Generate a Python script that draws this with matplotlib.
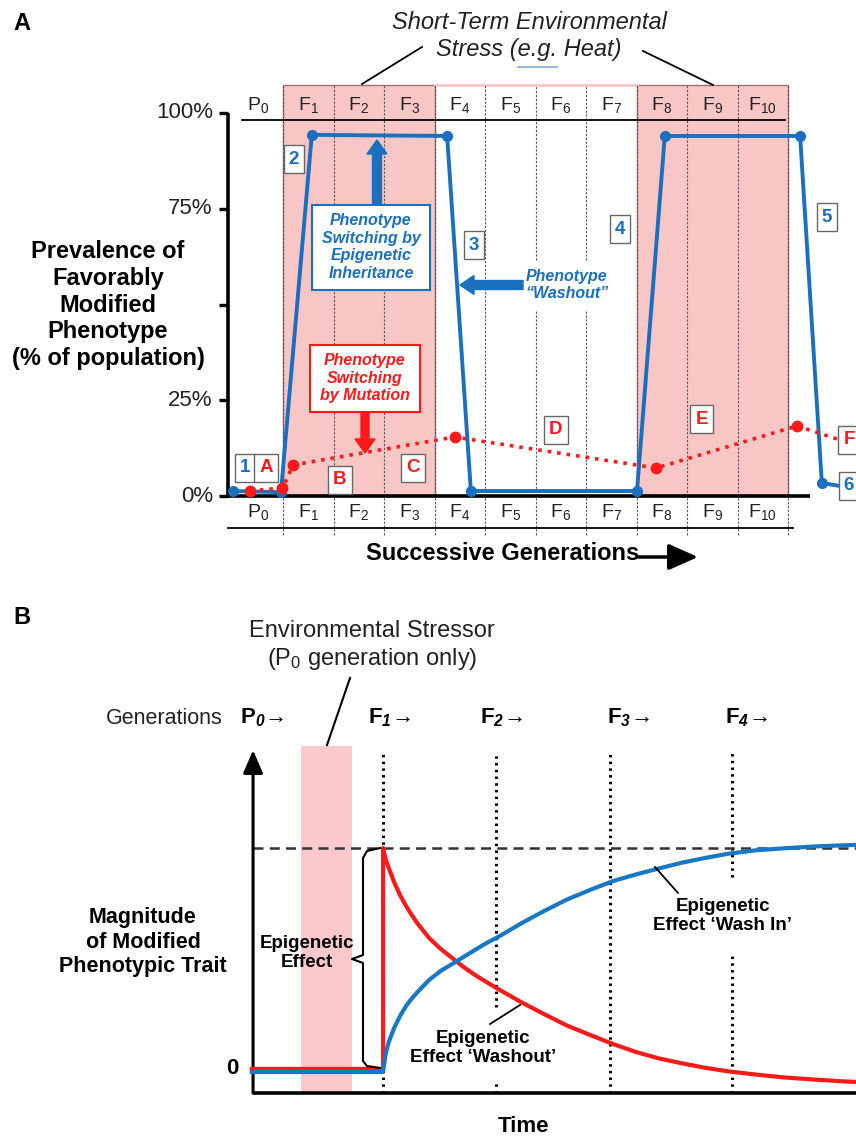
import matplotlib
matplotlib.use('Agg')
import matplotlib.pyplot as plt
from matplotlib.patches import Rectangle, FancyArrow

plt.rcParams['font.family'] = ['Liberation Sans', 'DejaVu Sans']
plt.rcParams['mathtext.fontset'] = 'custom'
plt.rcParams['mathtext.rm'] = 'Liberation Sans'
plt.rcParams['mathtext.it'] = 'Liberation Sans:italic'
plt.rcParams['mathtext.bf'] = 'Liberation Sans:bold'
try:
    plt.rcParams['mathtext.bfit'] = 'Liberation Sans:bold:italic'
except KeyError:
    pass

# ---------------- DATA ----------------
# Panel A: generations (each occupies one unit column)
gen_main = ['P', 'F', 'F', 'F', 'F', 'F', 'F', 'F', 'F', 'F', 'F']
gen_sub = ['0', '1', '2', '3', '4', '5', '6', '7', '8', '9', '10']
stress_blocks = [(1, 3), (8, 10)]          # F1-F3 and F8-F10 under stress
yticks_A = [0, 25, 50, 75, 100]
ytick_labels_A = ['0%', '25%', '', '75%', '100%']

# epigenetic inheritance (blue), % of population
epi_x = [0.01, 0.96, 1.57, 4.25, 4.72, 8.01, 8.56, 11.24, 11.67]
epi_y = [1.3, 1.0, 94.3, 94.0, 1.3, 1.3, 94.0, 94.0, 3.4]
# mutation (red), % of population
mut_x = [0.35, 0.99, 1.20, 4.40, 8.39, 11.18]
mut_y = [1.3, 2.1, 8.1, 15.4, 7.3, 18.3]

# Panel B
gens_B_main = ['P', 'F', 'F', 'F', 'F']
gens_B_sub = ['0', '1', '2', '3', '4']
gen_times_B = [1.0, 1.983, 2.974, 4.035]    # start times of F1..F4
stress_B = (0.287, 0.730)                  # P0 stress window
t_B = [1.0, 1.025, 1.05, 1.1, 1.15, 1.2, 1.25, 1.3, 1.4, 1.5, 1.6, 1.7,
       1.8, 1.9, 2.0, 2.2, 2.4, 2.6, 2.8, 3.0, 3.2, 3.4, 3.6, 3.8, 4.0,
       4.25, 4.5, 4.75, 5.0, 5.12]
washout_m = [1.000, 0.946, 0.910, 0.842, 0.786, 0.739, 0.698, 0.660, 0.595,
             0.546, 0.505, 0.464, 0.428, 0.396, 0.365, 0.306, 0.252, 0.200,
             0.158, 0.117, 0.081, 0.052, 0.030, 0.010, -0.006, -0.021,
             -0.034, -0.043, -0.051, -0.054]
washin_m = [-0.009, 0.078, 0.126, 0.193, 0.245, 0.288, 0.322, 0.351, 0.405,
            0.446, 0.477, 0.509, 0.541, 0.572, 0.599, 0.660, 0.716, 0.768,
            0.811, 0.851, 0.881, 0.908, 0.934, 0.955, 0.974, 0.990, 0.999,
            1.007, 1.012, 1.014]
baseline_t0 = -0.14
baseline_red = 0.005
baseline_blue = -0.009
effect_level = 1.0

# ---------------- STYLE ----------------
blue = '#1a6fbf'
blueB = '#1878c6'
red = '#ff1a1a'
pink = '#f9c6c6'
gray = '#666666'

fig = plt.figure(figsize=(8.56, 11.4), dpi=100)

axA = fig.add_axes([0, 0, 1, 1])
axA.set_axis_off()
axA.set_xlim(-232.5 / 50.5, (856 - 232.5) / 50.5)
axA.set_ylim((496 - 1140) / 3.83, 496 / 3.83)

axB = fig.add_axes([0, 0, 1, 1])
axB.set_axis_off()
axB.patch.set_alpha(0)
axB.set_xlim(1 - 383 / 115, 1 + (856 - 383) / 115)
axB.set_ylim((1070 - 1140) / 222, 1070 / 222)

ov = fig.add_axes([0, 0, 1, 1])
ov.set_axis_off()
ov.patch.set_alpha(0)
ov.set_xlim(0, 856)
ov.set_ylim(1140, 0)

# ================= PANEL A =================
top_A = 107.3
n_cols = len(gen_main)
for g0, g1 in stress_blocks:
    axA.add_patch(Rectangle((g0, 0), g1 - g0 + 1, top_A, fc=pink,
                            ec='#9c7070', lw=1, zorder=1))
axA.plot([4, 8], [top_A, top_A], color=pink, lw=2, zorder=1)

for k in range(1, n_cols + 1):
    if k in (6, 7):
        segs = [(61.6, top_A), (-10.2, 48.6)]
    else:
        segs = [(-10.2, top_A)]
    for a, b in segs:
        axA.plot([k, k], [a, b], color='#555555', lw=0.8,
                 ls=(0, (2, 1.5)), zorder=2)

axA.plot([0.19, 10.94], [98.2, 98.2], color='k', lw=1.3, zorder=3)
axA.plot([-0.09, 11.1], [-8.36, -8.36], color='k', lw=1.3, zorder=3)
axA.plot([-0.09, 11.44], [0, 0], color='k', lw=2.6, zorder=3,
         solid_capstyle='butt')
axA.plot([-0.09, -0.09], [0, 100], color='k', lw=2.6, zorder=3,
         solid_capstyle='butt')
for v, lab in zip(yticks_A, ytick_labels_A):
    axA.plot([-0.27, -0.09], [v, v], color='k', lw=2.4, zorder=3,
             solid_capstyle='butt')
    if lab:
        axA.text(-0.39, v, lab, ha='right', va='center', fontsize=16,
                 color='#222222')

for i, (m, s) in enumerate(zip(gen_main, gen_sub)):
    lab = m + r'$_{\mathit{' + s + '}}$'
    axA.text(i + 0.5, 102.1, lab, ha='center', va='center', fontsize=14,
             color='#222222', zorder=4)
    axA.text(i + 0.5, -4.2, lab, ha='center', va='center', fontsize=14,
             color='#222222', zorder=4)

axA.plot(epi_x, epi_y, color=blue, lw=2.8, marker='o', ms=7, zorder=6,
         clip_on=False)
axA.plot(mut_x, mut_y, color=red, lw=2.6, ls=':', marker='o', ms=7.5,
         zorder=7, clip_on=False)

# tails to labels 6 and F
ov.plot([822, 840], [483, 486], color=blue, lw=2.8, zorder=5)
ov.plot([797, 840], [426, 440], color=red, lw=2.6, ls=':', zorder=5)

# annotations panel A
ov.text(22, 24, 'A', fontsize=17, fontweight='bold', ha='center', va='center')
ov.text(529, 36, 'Short-Term Environmental\nStress (e.g. Heat)', fontsize=17,
        fontstyle='italic', ha='center', va='center', color='#222222',
        linespacing=1.2)
ov.plot([518, 557], [67, 67], color='#9ab8e0', lw=1.5)
ov.plot([362, 422], [84, 47], color='k', lw=1.3)
ov.plot([643, 713], [51, 85], color='k', lw=1.3)

ov.text(108, 305, 'Prevalence of\nFavorably\nModified\nPhenotype\n(% of population)',
        fontsize=17, fontweight='bold', ha='center', va='center',
        linespacing=1.2)
ov.text(503, 553, 'Successive Generations', fontsize=17, fontweight='bold',
        ha='center', va='center')
ov.annotate('', xy=(698, 557), xytext=(638, 557),
            arrowprops=dict(arrowstyle='-|>,head_length=0.9,head_width=0.4',
                            color='k', lw=2.5, mutation_scale=20,
                            shrinkA=0, shrinkB=0))

# epigenetic box + arrow
ov.add_patch(FancyArrow(377, 206, 0, -66, width=9, head_width=20,
                        head_length=14, length_includes_head=True,
                        color=blue, zorder=6))
ov.add_patch(Rectangle((312, 205), 118, 85, fc='white', ec=blue, lw=1.5,
                       zorder=7))
ov.text(371, 247, 'Phenotype\nSwitching by\nEpigenetic\nInheritance',
        color=blue, fontsize=11.5, fontweight='bold', fontstyle='italic',
        ha='center', va='center', zorder=8, linespacing=1.2)

# mutation box + arrow
ov.add_patch(Rectangle((310, 345), 110, 67, fc='white', ec=red, lw=1.5,
                       zorder=7))
ov.text(365, 378, 'Phenotype\nSwitching\nby Mutation', color=red,
        fontsize=11.5, fontweight='bold', fontstyle='italic', ha='center',
        va='center', zorder=8, linespacing=1.2)
ov.add_patch(FancyArrow(365, 412, 0, 41, width=8, head_width=20,
                        head_length=14, length_includes_head=True,
                        color=red, zorder=6))

# washout
ov.add_patch(FancyArrow(523, 285, -63, 0, width=9, head_width=19,
                        head_length=14, length_includes_head=True,
                        color=blue, zorder=6))
ov.text(567, 285, 'Phenotype\n\u201cWashout\u201d', color=blue, fontsize=11.5,
        fontweight='bold', fontstyle='italic', ha='center', va='center',
        zorder=8, linespacing=1.2)


def lbox(x, y, s, color):
    ov.text(x, y, s, color=color, fontsize=13.5, fontweight='bold',
            ha='center', va='center', zorder=10,
            bbox=dict(boxstyle='square,pad=0.28', fc='white', ec=gray, lw=1))


for (x, y, s) in [(245, 468, '1'), (294, 159, '2'), (474, 245, '3'),
                  (620, 229, '4'), (827, 217, '5'), (849, 486, '6')]:
    lbox(x, y, s, blue)
for (x, y, s) in [(266, 468, 'A'), (340, 480, 'B'), (413, 468, 'C'),
                  (556, 430, 'D'), (702, 419, 'E'), (849, 440, 'F')]:
    lbox(x, y, s, red)

# ================= PANEL B =================
y_axis_bottom = -0.104
y_axis_top = 1.441
t_axis = -0.13
axB.add_patch(Rectangle((stress_B[0], y_axis_bottom), stress_B[1] - stress_B[0],
                        1.459 - y_axis_bottom, fc='#fbc9cc', ec='none', zorder=1))

gaps = {1: (-0.059, 0.284), 3: (0.527, 0.869)}
for j, t in enumerate(gen_times_B):
    if j in gaps:
        segs = [(y_axis_bottom, gaps[j][0]), (gaps[j][1], 1.432)]
    else:
        segs = [(y_axis_bottom, 1.432)]
    for a, b in segs:
        axB.plot([t, t], [a, b], color='k', lw=2.2, ls=(0, (0.8, 1.4)),
                 zorder=2)

axB.plot([t_axis, 5.2], [effect_level, effect_level], color='#333333',
         lw=1.8, ls=(0, (4, 2.5)), zorder=2)
axB.plot([t_axis, 5.2], [y_axis_bottom, y_axis_bottom], color='k', lw=2.6,
         zorder=3, solid_capstyle='butt')
axB.annotate('', xy=(t_axis, y_axis_top), xytext=(t_axis, y_axis_bottom),
             arrowprops=dict(arrowstyle='-|>,head_length=0.7,head_width=0.3',
                             color='k', lw=2.2, mutation_scale=20,
                             shrinkA=0, shrinkB=0), zorder=3)

red_t = [baseline_t0, t_B[0]] + t_B
red_m = [baseline_red, baseline_red] + washout_m
blue_t = [baseline_t0] + t_B
blue_m = [baseline_blue] + washin_m
axB.plot(red_t, red_m, color=red, lw=3, zorder=4, solid_joinstyle='round')
axB.plot(blue_t, blue_m, color=blueB, lw=3, zorder=5, solid_joinstyle='round')

# bracket
bx = [380, 367, 363, 363, 352, 363, 363, 367, 380]
by = [848, 851, 858, 955, 959, 963, 1061, 1066, 1068]
ov.plot(bx, by, color='k', lw=1.5, zorder=6)

ov.text(22, 617, 'B', fontsize=17, fontweight='bold', ha='center', va='center')
ov.text(372, 646, 'Environmental Stressor\n(P$_{\\mathit{0}}$ generation only)',
        fontsize=17, ha='center', va='center', color='#222222',
        linespacing=1.25)
ov.plot([350, 327], [678, 745], color='k', lw=1.5)
ov.text(106, 718, 'Generations', fontsize=15.5, ha='left', va='center',
        color='#222222')
for x, m, s in zip([240, 368, 480, 607, 725], gens_B_main, gens_B_sub):
    ov.text(x, 718, m + r'$_{\mathbfit{' + s + '}}$' + '\u2192', fontsize=16,
            fontweight='bold', ha='left', va='center')

ov.text(143, 942, 'Magnitude\nof Modified\nPhenotypic Trait', fontsize=15.5,
        fontweight='bold', ha='center', va='center', linespacing=1.2)
ov.text(232, 1068, '0', fontsize=16, fontweight='bold', ha='center',
        va='center')
ov.text(307, 953, 'Epigenetic\nEffect', fontsize=13.5, fontweight='bold',
        ha='center', va='center', linespacing=1.15, zorder=6)
ov.text(723, 916, 'Epigenetic\nEffect \u2018Wash In\u2019', fontsize=13.5,
        fontweight='bold', ha='center', va='center', linespacing=1.15)
ov.plot([655, 678], [867, 893], color='k', lw=1.3)
ov.text(483, 1048, 'Epigenetic\nEffect \u2018Washout\u2019', fontsize=13.5,
        fontweight='bold', ha='center', va='center', linespacing=1.15)
ov.plot([520, 490], [1005, 1024], color='k', lw=1.3)
ov.text(524, 1127, 'Time', fontsize=16, fontweight='bold', ha='center',
        va='center')

fig.savefig('out.png', dpi=100)
